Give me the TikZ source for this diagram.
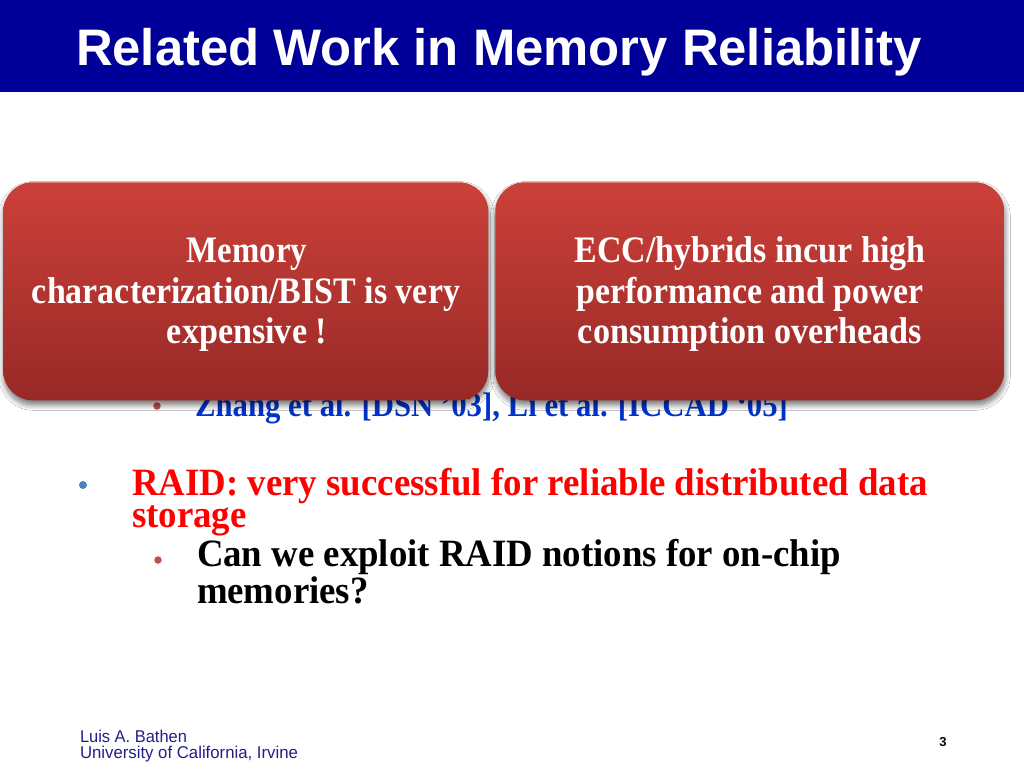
\documentclass[tikz,border=0pt]{standalone}
\usepackage{fontspec}
\setmainfont{Liberation Serif}
\setsansfont{Liberation Sans}
\usepackage{graphicx}
\usetikzlibrary{shadows.blur}
\definecolor{titleblue}{RGB}{0,0,153}
\definecolor{boxtop}{RGB}{204,64,58}
\definecolor{boxbot}{RGB}{152,41,38}
\definecolor{refblue}{RGB}{0,51,204}
\definecolor{raidred}{RGB}{255,0,0}
\definecolor{bulblue}{RGB}{79,129,189}
\definecolor{bulred}{RGB}{192,80,77}
\definecolor{footblue}{RGB}{35,31,140}
\newlength\unitpx
\setlength\unitpx{0.75pt}
\newcommand{\fitw}[2]{\resizebox{#1\unitpx}{\height}{#2}}
\tikzset{
  txt/.style={inner sep=0pt, outer sep=0pt, anchor=base west},
  ctxt/.style={inner sep=0pt, outer sep=0pt, anchor=base, text=white,
    font=\fontsize{28}{32}\selectfont\bfseries},
  redbox/.style={rectangle, rounded corners=22pt, top color=boxtop, bottom color=boxbot,
    draw=none, inner sep=0pt, anchor=north west,
    blur shadow={shadow xshift=0.5pt, shadow yshift=-3.5pt, shadow blur steps=10,
      shadow opacity=55, shadow blur radius=4pt}},
  bulletdot/.style={circle, inner sep=0pt, minimum size=7.5\unitpx}
}
\begin{document}
\begin{tikzpicture}[x=0.75pt, y=-0.75pt]
\useasboundingbox (0,0) rectangle (1024,768);
\fill[white] (0,0) rectangle (1024,768);
% title bar
\fill[titleblue] (0,0) rectangle (1024,92);
\node[txt, text=white, font=\sffamily\bfseries\fontsize{38.5}{45}\selectfont] (title) at (76,65)
  {\fitw{846}{Related Work in Memory Reliability}};
% partially hidden reference line
\node[bulletdot, fill=bulred] (b1) at (157,406) {};
\node[txt, text=refblue, font=\bfseries\fontsize{25.5}{28}\selectfont] (refs) at (195,416)
  {\fitw{593}{Zhang et al. [DSN ’03], Li et al. [ICCAD ‘05]}};
% red boxes
\node[redbox, minimum width=485\unitpx, minimum height=218\unitpx] (boxa) at (3,182) {};
\node[redbox, minimum width=509\unitpx, minimum height=218\unitpx] (boxb) at (495,182) {};
\node[ctxt] (a1) at (247,262) {\fitw{120}{Memory}};
\node[ctxt] (a2) at (246,303) {\fitw{428}{characterization/BIST is very}};
\node[ctxt] (a3) at (247,343) {\fitw{160}{expensive !}};
\node[ctxt] (c1) at (750,262) {\fitw{351}{ECC/hybrids incur high}};
\node[ctxt] (c2) at (750,303) {\fitw{347}{performance and power}};
\node[ctxt] (c3) at (750,343) {\fitw{344}{consumption overheads}};
% RAID bullet
\node[bulletdot, fill=bulblue, minimum size=8\unitpx] (b2) at (83,485) {};
\node[txt, text=raidred, font=\bfseries\fontsize{29}{30}\selectfont] (raid) at (132,527)
  {\fitw{796}{\vbox{\baselineskip=22.5pt\hbox{RAID: very successful for reliable distributed data}\hbox{storage}}}};
\node[bulletdot, fill=bulred] (b3) at (158,560) {};
\node[txt, text=black, font=\bfseries\fontsize{29}{30}\selectfont] (can) at (197,603)
  {\fitw{644}{\vbox{\baselineskip=23.25pt\hbox{Can we exploit RAID notions for on-chip}\hbox{memories?}}}};
% footer
\node[txt, text=footblue, font=\sffamily\fontsize{12.8}{15}\selectfont] (auth) at (80,742)
  {\fitw{107}{Luis A. Bathen}};
\node[txt, text=footblue, font=\sffamily\fontsize{12.8}{15}\selectfont] (univ) at (80,758)
  {\fitw{218}{University of California, Irvine}};
\node[inner sep=0pt, anchor=base, font=\sffamily\bfseries\fontsize{9.75}{12}\selectfont] (page) at (943,746) {3};
\end{tikzpicture}
\end{document}
